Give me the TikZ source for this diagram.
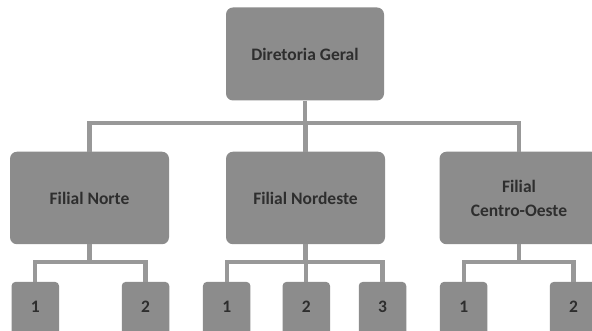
\documentclass[tikz,border=0pt]{standalone}
\usepackage{fontspec}
\setmainfont{Carlito}
\begin{document}
\begin{tikzpicture}[x=1pt,y=1pt,
  box/.style={fill=boxgray, draw=none, rounded corners=7pt, inner sep=0pt,
    text=txtgray, font=\fontsize{17.5}{24}\selectfont\bfseries, align=center},
  unit/.style={box, minimum width=159pt, minimum height=92.5pt},
  leaf/.style={box, anchor=north, minimum width=47.5pt, minimum height=70pt,
    rounded corners=4pt, text height=12pt, text depth=20pt},
  link/.style={draw=linegray, line width=4.2pt}]
\definecolor{boxgray}{HTML}{8C8C8C}
\definecolor{linegray}{HTML}{989898}
\definecolor{txtgray}{HTML}{2E2E2E}
\clip (0,0) rectangle (592,331);
\fill[white] (0,0) rectangle (592,331);

% top level
\node[box, minimum width=158pt, minimum height=93pt] (dg) at (305,277) {Diretoria Geral};

% branches
\node[unit] (fn)  at (89.5,133) {Filial Norte};
\node[unit] (fne) at (305.5,133) {Filial Nordeste};
\node[unit] (fco) at (519,133) {Filial\\Centro-Oeste};

% units under each branch (running off the lower edge)
\node[leaf] (n1)  at (35.3,49.3) {1};
\node[leaf] (n2)  at (145.5,49.3) {2};
\node[leaf] (ne1) at (226.7,49.3) {1};
\node[leaf] (ne2) at (306.3,49.3) {2};
\node[leaf] (ne3) at (382.5,49.3) {3};
\node[leaf] (co1) at (463.7,49.3) {1};
\node[leaf] (co2) at (573.5,49.3) {2};

% connector levels
\coordinate (lvlA) at (0,207.7);
\coordinate (lvlB) at (0,69.3);

% Diretoria Geral -> filiais
\draw[link] (dg.south) -- (dg.south |- lvlA);
\draw[link] (fn.north) -- (fn.north |- lvlA) -- (fco.north |- lvlA) -- (fco.north);
\draw[link] (fne.north) -- (fne.north |- lvlA);

% Filial Norte -> units
\draw[link] (fn.south) -- (fn.south |- lvlB);
\draw[link] (n1.north) -- (n1.north |- lvlB) -- (n2.north |- lvlB) -- (n2.north);

% Filial Nordeste -> units
\draw[link] (fne.south) -- (fne.south |- lvlB);
\draw[link] (ne1.north) -- (ne1.north |- lvlB) -- (ne3.north |- lvlB) -- (ne3.north);
\draw[link] (ne2.north) -- (ne2.north |- lvlB);

% Filial Centro-Oeste -> units
\draw[link] (fco.south) -- (fco.south |- lvlB);
\draw[link] (co1.north) -- (co1.north |- lvlB) -- (co2.north |- lvlB) -- (co2.north);
\end{tikzpicture}
\end{document}
